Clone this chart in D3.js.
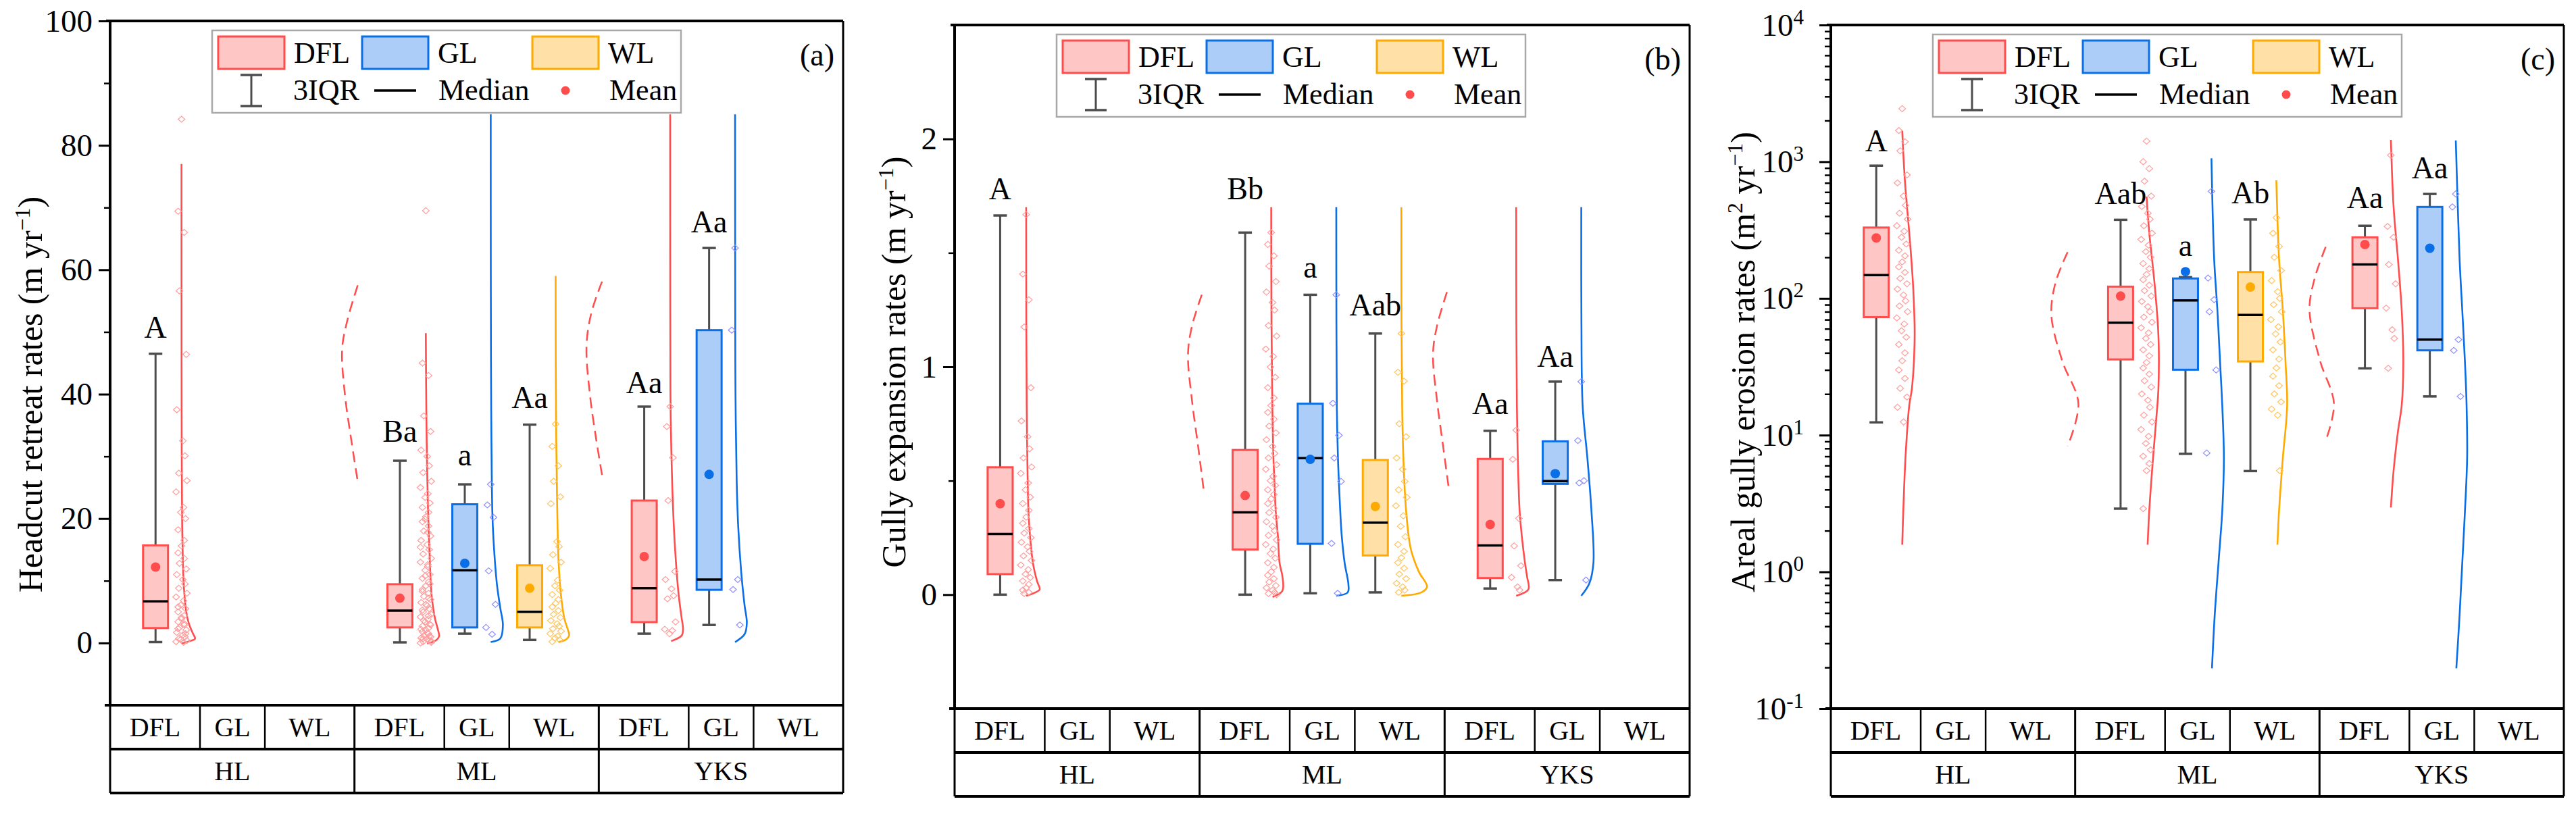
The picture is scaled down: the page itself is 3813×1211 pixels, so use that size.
<!DOCTYPE html>
<html>
<head>
<meta charset="utf-8">
<script src="https://cdn.jsdelivr.net/npm/d3@7"></script>
<style>
  body { margin: 0; background: #fff; }
  svg { display: block; }
  text { font-family: "Liberation Serif", "Times New Roman", serif; fill: #000; }
</style>
</head>
<body>
<svg id="chart" width="3813" height="1211"></svg>
<script>
// ---- categories ----
var regions = ["HL", "ML", "YKS"];
var landuses = ["DFL", "GL", "WL"];
// boxes that have data (region index / land use index)
var boxRegion = [0, 1, 1, 1, 2, 2];
var boxLand = [0, 0, 1, 2, 0, 1];

// ---- box stats: [lower whisker, Q1, median, Q3, upper whisker, mean] ----
var statsA = [
  [0.15, 2.4, 6.7, 15.7, 46.5, 12.2],
  [0.1, 2.5, 5.2, 9.45, 29.3, 7.2],
  [1.5, 2.5, 11.7, 22.3, 25.5, 12.8],
  [0.5, 2.5, 5.0, 12.5, 35.1, 8.8],
  [1.5, 3.35, 8.8, 22.9, 38.0, 13.9],
  [2.9, 8.55, 10.2, 50.3, 63.5, 27.1]
];
var statsB = [
  [0.0, 0.09, 0.266, 0.559, 1.664, 0.399],
  [0.0, 0.198, 0.361, 0.635, 1.589, 0.435],
  [0.006, 0.223, 0.599, 0.838, 1.316, 0.594],
  [0.01, 0.172, 0.316, 0.591, 1.146, 0.387],
  [0.027, 0.073, 0.216, 0.596, 0.719, 0.308],
  [0.064, 0.486, 0.498, 0.673, 0.935, 0.531]
];
var statsC = [
  [12.4, 73, 148, 330, 936, 277],
  [2.9, 35.8, 66.5, 122, 376, 104],
  [7.3, 30.1, 96.7, 140, 143, 157],
  [5.46, 34.6, 75.8, 156, 378, 121],
  [30.8, 84.8, 177, 280, 340, 248],
  [19.2, 41.7, 50, 467, 581, 233]
];

// ---- significance letters and the value they sit at ----
var lettersA = ["A", "Ba", "a", "Aa", "Aa", "Aa"];
var letterAtA = [49.1, 32.3, 28.5, 37.8, 40.2, 66];
var lettersB = ["A", "Bb", "a", "Aab", "Aa", "Aa"];
var letterAtB = [1.735, 1.735, 1.391, 1.225, 0.793, 1.0];
var lettersC = ["A", "Aab", "a", "Ab", "Aa", "Aa"];
var letterAtC = [1190, 488, 204, 499, 457, 760];

// ---- half violins: [value, density] ----
var violinA = [
  [[-0.1, 0], [0.3, 0.6], [0.7, 1.0], [1.5, 0.85], [3.1, 0.55], [5, 0.35], [7.7, 0.22], [10, 0.15], [13.3, 0.1], [19, 0.05], [25, 0.03], [31, 0.015], [45, 0.005], [77, 0]],
  [[-0.1, 0.1], [0.5, 0.8], [1.1, 0.98], [2.5, 0.85], [3.9, 0.68], [7.6, 0.43], [13, 0.3], [20.2, 0.18], [27.4, 0.1], [34.7, 0.05], [42, 0.02], [49.8, 0]],
  [[0.15, 0], [0.7, 0.7], [2.85, 0.9], [5.7, 0.7], [9.4, 0.46], [15, 0.25], [20.2, 0.13], [32.8, 0.05], [45, 0.02], [60, 0.005], [85, 0]],
  [[0.15, 0.2], [0.6, 0.8], [1.2, 1.0], [2.5, 0.85], [3.9, 0.65], [7.6, 0.4], [13, 0.22], [20.2, 0.13], [27.4, 0.08], [34.7, 0.035], [45, 0.01], [59, 0]],
  [[0.3, 0.07], [1.2, 0.85], [2.2, 0.95], [4.3, 0.83], [7.9, 0.62], [15.2, 0.36], [22.4, 0.2], [33.2, 0.065], [40.4, 0.02], [55, 0.005], [85, 0]],
  [[0.15, 0], [1.4, 0.7], [3.2, 0.87], [6.1, 0.7], [11.5, 0.45], [18.8, 0.23], [26, 0.12], [40.4, 0.03], [55, 0.01], [85, 0]]
];
var violinB = [
  [[-0.005, 0], [0.01, 0.7], [0.023, 1.0], [0.06, 0.8], [0.139, 0.5], [0.254, 0.29], [0.37, 0.165], [0.6, 0.085], [0.83, 0.04], [1.2, 0.01], [1.7, 0]],
  [[-0.01, 0.1], [0.017, 0.83], [0.08, 0.83], [0.139, 0.62], [0.254, 0.5], [0.37, 0.33], [0.485, 0.25], [0.6, 0.165], [0.83, 0.085], [1.2, 0.02], [1.7, 0]],
  [[-0.005, 0], [0.01, 0.85], [0.044, 0.9], [0.139, 0.62], [0.254, 0.41], [0.37, 0.29], [0.485, 0.2], [0.6, 0.125], [0.83, 0.04], [1.2, 0.01], [1.7, 0]],
  [[-0.005, 0], [0.01, 1.5], [0.035, 1.9], [0.1, 1.3], [0.2, 0.7], [0.37, 0.35], [0.6, 0.15], [0.83, 0.06], [1.2, 0.01], [1.7, 0]],
  [[-0.005, 0], [0.023, 0.9], [0.08, 0.8], [0.139, 0.65], [0.254, 0.42], [0.37, 0.25], [0.6, 0.12], [0.83, 0.05], [1.2, 0.01], [1.7, 0]],
  [[-0.005, 0], [0.05, 0.6], [0.14, 0.9], [0.37, 0.75], [0.6, 0.45], [0.83, 0.1], [1.2, 0.01], [1.7, 0]]
];
var violinC = [
  [[1.58, 0], [2.8, 0.08], [6.8, 0.24], [16.5, 0.52], [22, 0.72], [53, 0.92], [126, 0.8], [302, 0.52], [721, 0.2], [1686, 0]],
  [[1.58, 0.08], [2.8, 0.2], [6.8, 0.48], [16.5, 0.8], [22, 0.88], [53, 0.88], [126, 0.6], [302, 0.2], [555, 0]],
  [[0.197, 0.04], [0.48, 0.24], [1.16, 0.52], [2.8, 0.8], [6.8, 0.92], [16.5, 0.8], [34, 0.64], [82, 0.44], [195, 0.2], [1059, 0]],
  [[1.58, 0.08], [2.8, 0.2], [6.8, 0.48], [16.5, 0.8], [34, 0.68], [82, 0.48], [195, 0.2], [731, 0]],
  [[2.96, 0], [5.5, 0.2], [10.6, 0.52], [16.5, 0.8], [34, 0.92], [82, 0.8], [195, 0.52], [467, 0.2], [1446, 0]],
  [[0.197, 0.04], [0.48, 0.28], [1.16, 0.48], [2.8, 0.68], [6.8, 0.84], [16.5, 0.8], [34, 0.68], [82, 0.48], [195, 0.28], [1430, 0]]
];

// ---- dashed curves beside ML and YKS: [value, offset] ----
var dashA = [
  [[57.5, 0], [52, -0.75], [47.3, -1.15], [40, -0.95], [33, -0.5], [26, 0]],
  [[58.1, 0], [53, -0.8], [47.7, -1.15], [40, -0.9], [33, -0.45], [27, 0]]
];
var dashB = [
  [[1.316, -0.08], [1.18, -0.8], [1.056, -1.1], [0.85, -0.8], [0.65, -0.35], [0.464, 0.05]],
  [[1.328, -0.07], [1.18, -0.8], [1.057, -1.1], [0.85, -0.8], [0.65, -0.35], [0.473, 0.05]]
];
var dashC = [
  [[218, -0.8], [130, -1.7], [75, -2.0], [35, -1.2], [17, 0], [8.3, -0.8]],
  [[238, 0.22], [140, -0.6], [82, -0.98], [35, -0.2], [17, 0.83], [9.1, 0.22]]
];

// ---- raw observations (scatter) ----
var pointsA = [
  [84.2, 69.4, 66, 56.6, 46.4, 37.5, 32.5, 30.1, 27.3, 26.1, 24.3, 21.8, 21, 20, 18.2, 16.5, 15.6, 14.5, 13.6, 12.8, 11.9, 11, 10.2, 9.5, 8.8, 8, 7.4, 6.8, 6.1, 5.5, 5, 4.4, 3.9, 3.4, 2.9, 2.5, 2.1, 1.7, 1.3, 1, 0.7, 0.4, 0.2, 0.1, 0.6, 1.5, 2.3, 3.1, 4.1, 5.8],
  [69.5, 45, 43, 36.5, 34, 31, 30, 28.5, 27.4, 26, 25, 24, 23.4, 22.5, 21.8, 21, 20.3, 19.5, 18.8, 18, 17.2, 16.5, 15.8, 15, 14.3, 13.6, 13, 12.3, 11.7, 11, 10.4, 9.8, 9.2, 8.6, 8, 7.5, 7, 6.5, 6, 5.5, 5, 4.6, 4.2, 3.8, 3.4, 3, 2.7, 2.4, 2.1, 1.8, 1.5, 1.2, 1, 0.8, 0.6, 0.4, 0.2, 0.1, 0, 12.6, 10.8, 9.5, 8.3, 7.2, 6.2, 5.3, 4.4, 3.6, 2.9, 2.2, 1.6, 1.1, 0.7, 0.3, 15.4, 17.8, 19.9],
  [25.5, 22.2, 20.2, 11.6, 6.2, 2.5, 1.4],
  [35.2, 31.6, 28.5, 26, 23.5, 22.4, 16.3, 15.5, 14.2, 13, 12, 10.1, 9.2, 8.5, 7.8, 7, 6.4, 5.8, 5.2, 4.6, 4.1, 3.6, 3.1, 2.7, 2.3, 1.9, 1.5, 1.1, 0.8, 0.5, 0.2],
  [38, 34.8, 29.8, 22.9, 11.5, 10.2, 8.7, 7.6, 7.1, 3.4, 2.2, 2.0, 1.5],
  [63.5, 50.3, 10.2, 8.6, 2.9]
];
var pointsB = [
  [1.668, 1.407, 1.294, 1.175, 0.908, 0.762, 0.693, 0.64, 0.6, 0.56, 0.532, 0.49, 0.46, 0.428, 0.4, 0.37, 0.34, 0.313, 0.29, 0.27, 0.25, 0.23, 0.21, 0.19, 0.17, 0.15, 0.13, 0.11, 0.09, 0.075, 0.06, 0.045, 0.03, 0.02, 0.01, 0.005],
  [1.589, 1.537, 1.487, 1.442, 1.374, 1.328, 1.282, 1.249, 1.181, 1.135, 1.078, 1.045, 0.999, 0.954, 0.908, 0.863, 0.83, 0.8, 0.77, 0.74, 0.71, 0.68, 0.65, 0.62, 0.6, 0.57, 0.55, 0.52, 0.5, 0.48, 0.46, 0.44, 0.42, 0.4, 0.38, 0.36, 0.34, 0.32, 0.3, 0.28, 0.26, 0.24, 0.22, 0.2, 0.18, 0.16, 0.14, 0.12, 0.1, 0.085, 0.07, 0.055, 0.04, 0.03, 0.02, 0.01, 0.005, 0],
  [1.316, 0.84, 0.699, 0.6, 0.497, 0.225, 0.006],
  [1.146, 0.976, 0.937, 0.75, 0.693, 0.6, 0.55, 0.497, 0.46, 0.427, 0.39, 0.346, 0.3, 0.254, 0.22, 0.19, 0.162, 0.14, 0.116, 0.09, 0.07, 0.05, 0.034, 0.02, 0.01],
  [0.722, 0.594, 0.335, 0.214, 0.127, 0.076, 0.034, 0.02],
  [0.935, 0.676, 0.5, 0.49, 0.064]
];
var pointsC = [
  [2443, 1690, 1400, 1200, 800, 700, 560, 480, 420, 380, 340, 310, 280, 250, 225, 205, 185, 170, 155, 140, 128, 117, 106, 96, 88, 80, 72, 65, 58, 52, 46, 40, 35, 30, 26, 22, 19, 16, 12.5],
  [1415, 1000, 890, 720, 560, 470, 420, 380, 340, 300, 270, 245, 220, 200, 180, 165, 150, 137, 125, 114, 104, 95, 87, 80, 73, 67, 61, 56, 51, 46, 42, 38, 34, 31, 28, 25, 22.5, 20, 18, 16, 14, 12.5, 11, 9.8, 8.7, 7.8, 7, 6.2, 5.5, 2.9],
  [607, 141, 98, 80, 30, 7.4],
  [390, 300, 240, 200, 160, 135, 112, 100, 90, 80, 70, 62, 55, 48, 42, 36, 31, 27, 23, 20, 17.5, 15.5, 14, 5.5],
  [1115, 336, 280, 177, 128, 85, 59, 51, 30.8],
  [581, 467, 50, 41.7, 19.2]
];

// ---- styles ----
var strokeCol = { DFL: "#ff4c4c", GL: "#0a6ee6", WL: "#ffaa00" };
var fillCol = { DFL: "#ffc6c6", GL: "#abcdf7", WL: "#ffe0a6" };
var dotCol = { DFL: "#ff9c9c", GL: "#8f8fff", WL: "#ffc45c" };
var whiskerCol = "#4d4d4d";
var jitter = [0, -5, 4, -3, 7, -7, 2, 5, -4, 8, -8, 3, -1, 6, -5, 4];
var regionSpan = 3.765;
var cellEdges = [0, 1.385, 2.385, 3.765];

var svg = d3.select("#chart");

var diamond = {
  draw: function (ctx, size) {
    ctx.moveTo(0, -4.5); ctx.lineTo(5, 0); ctx.lineTo(0, 4.5); ctx.lineTo(-5, 0); ctx.closePath();
  }
};

function drawPanel(p) {
  var g = svg.append("g");
  var x = d3.scaleLinear().domain([0, 11.295]).range([p.left, p.right]);
  var y = p.log
    ? d3.scaleLog().domain(p.yDomain).range([p.bottom, p.top])
    : d3.scaleLinear().domain(p.yDomain).range([p.bottom, p.top]);
  var unit = x(1) - x(0);
  var boxX = function (i) { return x(boxRegion[i] * regionSpan + 0.7 + boxLand[i]); };
  var wScale = d3.scaleLinear().domain([0, 1]).range([0, 20]);

  // dashed curves
  [1, 4].forEach(function (bi, k) {
    var x0 = boxX(bi) - 0.65 * unit;
    g.append("path")
      .attr("d", d3.line().curve(d3.curveCatmullRom)
        .x(function (d) { return x0 + wScale(d[1]); })
        .y(function (d) { return y(d[0]); })(p.dash[k]))
      .attr("fill", "none").attr("stroke", strokeCol.DFL)
      .attr("stroke-width", 2.5).attr("stroke-dasharray", "16,9");
  });

  // violins + scatter
  p.stats.forEach(function (s, i) {
    var lu = landuses[boxLand[i]];
    var x0 = boxX(i) + 0.4 * unit;
    g.append("path")
      .attr("d", d3.line().curve(d3.curveCatmullRom)
        .x(function (d) { return x0 + wScale(d[1]); })
        .y(function (d) { return y(d[0]); })(p.violin[i]))
      .attr("fill", "none").attr("stroke", strokeCol[lu]).attr("stroke-width", 2.6);
    g.append("g").selectAll("path")
      .data(p.points[i])
      .enter().append("path")
      .attr("d", d3.symbol().type(diamond)())
      .attr("transform", function (d, j) {
        return "translate(" + (x0 + jitter[j % jitter.length]) + "," + y(d) + ")";
      })
      .attr("fill", "none").attr("stroke", dotCol[lu]).attr("stroke-width", 1.2);
  });

  // boxes
  var bw = 0.385 * unit;
  p.stats.forEach(function (s, i) {
    var lu = landuses[boxLand[i]];
    var cx = boxX(i);
    var bg = g.append("g");
    bg.append("line").attr("x1", cx).attr("x2", cx).attr("y1", y(s[0])).attr("y2", y(s[4]))
      .attr("stroke", whiskerCol).attr("stroke-width", 3);
    [s[0], s[4]].forEach(function (v) {
      bg.append("line").attr("x1", cx - 10).attr("x2", cx + 10).attr("y1", y(v)).attr("y2", y(v))
        .attr("stroke", whiskerCol).attr("stroke-width", 3.5);
    });
    bg.append("rect").attr("x", cx - bw / 2).attr("width", bw)
      .attr("y", y(s[3])).attr("height", y(s[1]) - y(s[3]))
      .attr("fill", fillCol[lu]).attr("stroke", strokeCol[lu]).attr("stroke-width", 3);
    bg.append("line").attr("x1", cx - bw / 2).attr("x2", cx + bw / 2).attr("y1", y(s[2])).attr("y2", y(s[2]))
      .attr("stroke", "#000").attr("stroke-width", 3.5);
    bg.append("circle").attr("cx", cx).attr("cy", y(s[5])).attr("r", 7).attr("fill", strokeCol[lu]);
    g.append("text").attr("x", cx).attr("y", y(p.letterAt[i]))
      .attr("text-anchor", "middle").attr("font-size", 46).text(p.letters[i]);
  });

  // y axis ticks
  var major = g.append("g").attr("transform", "translate(" + p.left + ",0)")
    .call(d3.axisLeft(y).tickValues(p.major).tickSize(17).tickPadding(9)
      .tickFormat(p.log ? function () { return "10"; } : d3.format("d")));
  major.select(".domain").remove();
  major.selectAll(".tick line").attr("stroke", "#000").attr("stroke-width", 3);
  major.selectAll(".tick text").attr("font-size", 47)
    .attr("font-family", "Liberation Serif, Times New Roman, serif").attr("fill", "#000");
  if (p.log) {
    major.selectAll(".tick text").attr("dx", "-14")
      .append("tspan").attr("dy", "-0.55em").attr("font-size", 31)
      .text(function (d) { return Math.round(Math.log10(d)); });
  }
  var minor = g.append("g").attr("transform", "translate(" + p.left + ",0)")
    .call(d3.axisLeft(y).tickValues(p.minor).tickSize(9).tickFormat(""));
  minor.select(".domain").remove();
  minor.selectAll(".tick line").attr("stroke", "#000").attr("stroke-width", 2.5);

  // frame
  g.append("line").attr("x1", p.left - 6).attr("x2", p.right).attr("y1", p.top).attr("y2", p.top)
    .attr("stroke", "#000").attr("stroke-width", 4);
  g.append("line").attr("x1", p.left).attr("x2", p.left).attr("y1", p.top).attr("y2", p.bottom)
    .attr("stroke", "#000").attr("stroke-width", 4);
  g.append("line").attr("x1", p.right).attr("x2", p.right).attr("y1", p.top).attr("y2", p.bottom)
    .attr("stroke", "#000").attr("stroke-width", 3);

  // category table
  var r1 = p.bottom + 65, r2 = p.bottom + 130;
  [p.bottom, r1, r2].forEach(function (yy) {
    g.append("line").attr("x1", yy === p.bottom ? p.left - 8 : p.left).attr("x2", p.right)
      .attr("y1", yy).attr("y2", yy).attr("stroke", "#000").attr("stroke-width", 4);
  });
  regions.forEach(function (rg, ri) {
    var base = ri * regionSpan;
    cellEdges.forEach(function (e, ei) {
      var xx = x(base + e);
      if (ei === 0 || ri === regions.length - 1 && ei === 3) {
        g.append("line").attr("x1", xx).attr("x2", xx).attr("y1", p.bottom).attr("y2", r2)
          .attr("stroke", "#000").attr("stroke-width", 3);
      } else if (ei < 3) {
        g.append("line").attr("x1", xx).attr("x2", xx).attr("y1", p.bottom).attr("y2", r1)
          .attr("stroke", "#000").attr("stroke-width", 2.5);
      }
    });
    landuses.forEach(function (lu, li) {
      g.append("text").attr("x", x(base + (cellEdges[li] + cellEdges[li + 1]) / 2))
        .attr("y", p.bottom + 46).attr("text-anchor", "middle").attr("font-size", 40).text(lu);
    });
    g.append("text").attr("x", x(base + regionSpan / 2)).attr("y", r1 + 46)
      .attr("text-anchor", "middle").attr("font-size", 40).text(rg);
  });

  // y title
  var t = g.append("text")
    .attr("transform", "translate(" + p.titleX + "," + p.titleY + ") rotate(-90)")
    .attr("text-anchor", "middle").attr("font-size", 50);
  p.title.forEach(function (part) {
    if (part.sup) {
      t.append("tspan").attr("baseline-shift", "super").attr("font-size", 32).text(part.t);
    } else {
      t.append("tspan").text(part.t);
    }
  });

  // panel letter
  g.append("text").attr("x", p.right - 13).attr("y", p.top + 66)
    .attr("text-anchor", "end").attr("font-size", 46).text(p.tag);

  // legend
  var lx = p.left + 151, ly = p.top + 14;
  var lg = g.append("g").attr("transform", "translate(" + lx + "," + ly + ")");
  lg.append("rect").attr("width", 694).attr("height", 122)
    .attr("fill", "#fff").attr("stroke", "#a8a8a8").attr("stroke-width", 2.5);
  var sx = [9, 222, 474];
  landuses.forEach(function (lu, li) {
    lg.append("rect").attr("x", sx[li]).attr("y", 9).attr("width", 98).attr("height", 48)
      .attr("fill", fillCol[lu]).attr("stroke", strokeCol[lu]).attr("stroke-width", 3);
    lg.append("text").attr("x", sx[li] + 112).attr("y", 48).attr("font-size", 44).text(lu);
  });
  lg.append("line").attr("x1", 58).attr("x2", 58).attr("y1", 66).attr("y2", 112)
    .attr("stroke", whiskerCol).attr("stroke-width", 3);
  [66, 112].forEach(function (yy) {
    lg.append("line").attr("x1", 42).attr("x2", 74).attr("y1", yy).attr("y2", yy)
      .attr("stroke", whiskerCol).attr("stroke-width", 3.5);
  });
  lg.append("text").attr("x", 120).attr("y", 103).attr("font-size", 44).text("3IQR");
  lg.append("line").attr("x1", 240).attr("x2", 302).attr("y1", 89).attr("y2", 89)
    .attr("stroke", "#000").attr("stroke-width", 3.5);
  lg.append("text").attr("x", 335).attr("y", 103).attr("font-size", 44).text("Median");
  lg.append("circle").attr("cx", 523).attr("cy", 89).attr("r", 6.5).attr("fill", strokeCol.DFL);
  lg.append("text").attr("x", 588).attr("y", 103).attr("font-size", 44).text("Mean");
}

var logMinor = [];
[-1, 0, 1, 2, 3].forEach(function (e) {
  for (var k = 2; k <= 9; k++) logMinor.push(k * Math.pow(10, e));
});

drawPanel({
  left: 163, right: 1248, top: 31, bottom: 1044, yDomain: [-10, 100], log: false,
  major: [0, 20, 40, 60, 80, 100], minor: [10, 30, 50, 70, 90],
  stats: statsA, letters: lettersA, letterAt: letterAtA, violin: violinA, points: pointsA, dash: dashA,
  titleX: 62, titleY: 584, tag: "(a)",
  title: [{ t: "Headcut retreat rates (m yr" }, { t: "\u22121", sup: true }, { t: ")" }]
});
drawPanel({
  left: 1413, right: 2501, top: 37, bottom: 1049, yDomain: [-0.5, 2.5], log: false,
  major: [0, 1, 2], minor: [0.5, 1.5],
  stats: statsB, letters: lettersB, letterAt: letterAtB, violin: violinB, points: pointsB, dash: dashB,
  titleX: 1340, titleY: 536, tag: "(b)",
  title: [{ t: "Gully expansion rates (m yr" }, { t: "\u22121", sup: true }, { t: ")" }]
});
drawPanel({
  left: 2710, right: 3795, top: 37, bottom: 1049, yDomain: [0.1, 10000], log: true,
  major: [0.1, 1, 10, 100, 1000, 10000], minor: logMinor,
  stats: statsC, letters: lettersC, letterAt: letterAtC, violin: violinC, points: pointsC, dash: dashC,
  titleX: 2597, titleY: 536, tag: "(c)",
  title: [{ t: "Areal gully erosion rates (m" }, { t: "2", sup: true }, { t: " yr" }, { t: "\u22121", sup: true }, { t: ")" }]
});
</script>
</body>
</html>
